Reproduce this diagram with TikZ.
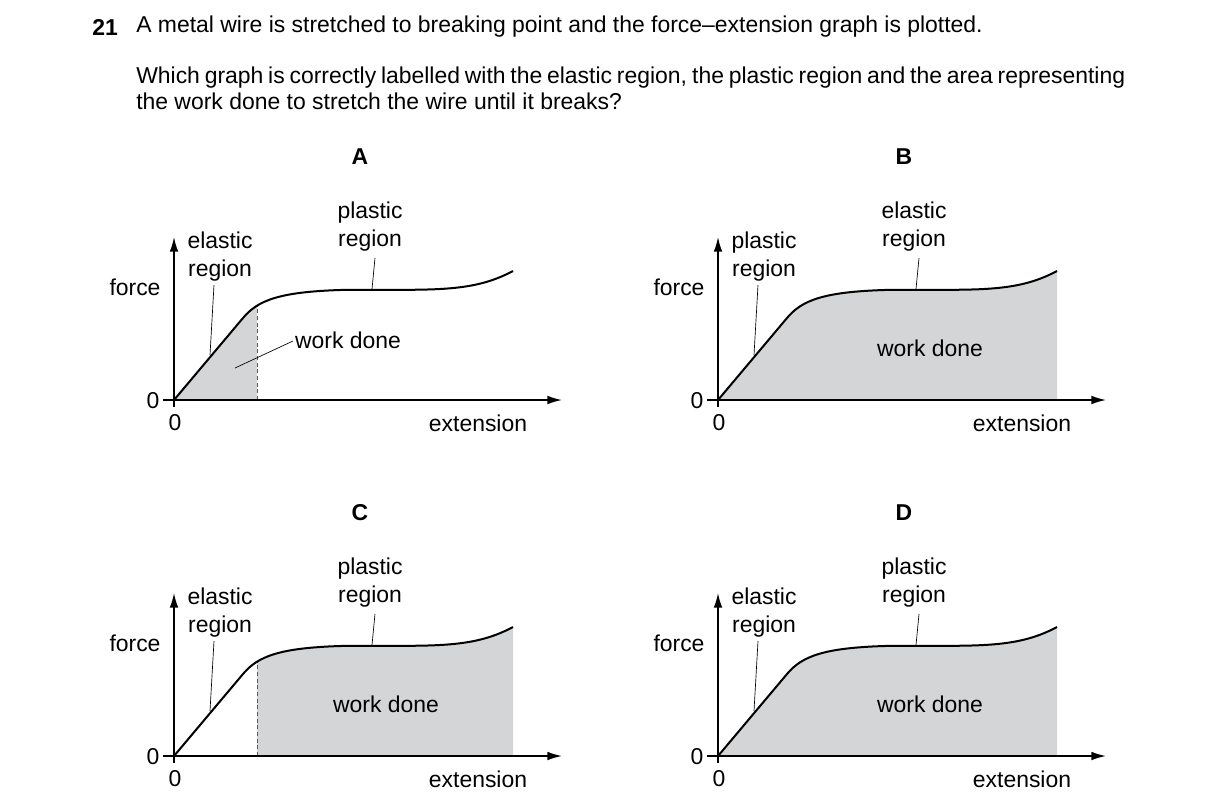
\documentclass[tikz,border=0pt]{standalone}
\usepackage{fontspec}
\setmainfont{Liberation Sans}
\usetikzlibrary{arrows.meta}
\definecolor{wkfill}{HTML}{D3D5D6}
\newcommand{\fecurve}{(174,400) -- (243,318) .. controls (258,300) and (280,292) .. (340,290) .. controls (430,289) and (470,294) .. (513,271)}
\begin{document}
\begin{tikzpicture}[x=0.75pt,y=-0.75pt,
  txt/.style={font=\fontsize{17.2}{21}\selectfont, inner sep=0pt, align=center},
  axis/.style={line width=1.1pt, -{Latex[length=11pt,width=6.5pt]}},
  crv/.style={line width=1.5pt, line join=round},
  lead/.style={line width=0.5pt},
  dsh/.style={line width=0.6pt, dash pattern=on 3pt off 2pt, gray!70!black}]
\useasboundingbox (0,0) rectangle (1216,811);
\node[txt, font=\fontsize{17.2}{21}\selectfont\bfseries, anchor=west] (num) at (92,27) {21};
\node[txt, anchor=west] (q1) at (136,27) {A metal wire is stretched to breaking point and the force–extension graph is plotted.};
\node[txt, anchor=north west, text width=741.75pt, align=justify, font=\fontsize{17.2}{19.5}\selectfont] (q2) at (136,67) {Which graph is correctly labelled with the elastic region, the plastic region and the area representing the work done to stretch the wire until it breaks?};
% A
\begin{scope}
  \begin{scope}\clip (174,0) rectangle (257,400); \fill[wkfill] \fecurve -- (513,400) -- cycle; \end{scope}
  \draw[dsh] (257,400) -- (257,306);
  \draw[crv] \fecurve;
  \draw[axis] (174,407) -- (174,237);
  \draw[axis] (163,400) -- (562,400);
  \node[txt,font=\fontsize{17.2}{21}\selectfont\bfseries] (la) at (360,157) {A};
  \node[txt] (fa) at (135,287) {force};
  \node[txt] (za) at (153,401) {0};
  \node[txt] (zb) at (175,423) {0};
  \node[txt] (ea) at (478,423) {extension};
  \node[txt] (el) at (220,257) {elastic\\region};
  \node[txt] (pl) at (370,227) {plastic\\region};
  \node[txt] (wd) at (348,340) {work done};
  \draw[lead] (210,355) -- (214,285);
  \draw[lead] (372,289) -- (375,258);
  \draw[lead] (235,368) -- (293,341);
\end{scope}
% B
\begin{scope}[shift={(544,0)}]
  \fill[wkfill] \fecurve -- (513,400) -- cycle;
  \draw[crv] \fecurve;
  \draw[axis] (174,407) -- (174,237);
  \draw[axis] (163,400) -- (562,400);
  \node[txt,font=\fontsize{17.2}{21}\selectfont\bfseries] (lb) at (360,157) {B};
  \node[txt] (fb) at (135,287) {force};
  \node[txt] (zc) at (153,401) {0};
  \node[txt] (zd) at (175,423) {0};
  \node[txt] (eb) at (478,423) {extension};
  \node[txt] (plb) at (220,257) {plastic\\region};
  \node[txt] (elb) at (370,227) {elastic\\region};
  \node[txt] (wdb) at (386,348) {work done};
  \draw[lead] (210,355) -- (214,285);
  \draw[lead] (372,289) -- (375,258);
\end{scope}
% C
\begin{scope}[shift={(0,356)}]
  \begin{scope}\clip (257,0) rectangle (520,400); \fill[wkfill] \fecurve -- (513,400) -- cycle; \end{scope}
  \draw[dsh] (257,400) -- (257,306);
  \draw[crv] \fecurve;
  \draw[axis] (174,407) -- (174,237);
  \draw[axis] (163,400) -- (562,400);
  \node[txt,font=\fontsize{17.2}{21}\selectfont\bfseries] (lc) at (360,157) {C};
  \node[txt] (fc) at (135,287) {force};
  \node[txt] (ze) at (153,401) {0};
  \node[txt] (zf) at (175,423) {0};
  \node[txt] (ec) at (478,423) {extension};
  \node[txt] (elc) at (220,257) {elastic\\region};
  \node[txt] (plc) at (370,227) {plastic\\region};
  \node[txt] (wdc) at (386,348) {work done};
  \draw[lead] (210,355) -- (214,285);
  \draw[lead] (372,289) -- (375,258);
\end{scope}
% D
\begin{scope}[shift={(544,356)}]
  \fill[wkfill] \fecurve -- (513,400) -- cycle;
  \draw[crv] \fecurve;
  \draw[axis] (174,407) -- (174,237);
  \draw[axis] (163,400) -- (562,400);
  \node[txt,font=\fontsize{17.2}{21}\selectfont\bfseries] (ld) at (360,157) {D};
  \node[txt] (fd) at (135,287) {force};
  \node[txt] (zg) at (153,401) {0};
  \node[txt] (zh) at (175,423) {0};
  \node[txt] (ed) at (478,423) {extension};
  \node[txt] (eld) at (220,257) {elastic\\region};
  \node[txt] (pld) at (370,227) {plastic\\region};
  \node[txt] (wdd) at (386,348) {work done};
  \draw[lead] (210,355) -- (214,285);
  \draw[lead] (372,289) -- (375,258);
\end{scope}
\end{tikzpicture}
\end{document}
